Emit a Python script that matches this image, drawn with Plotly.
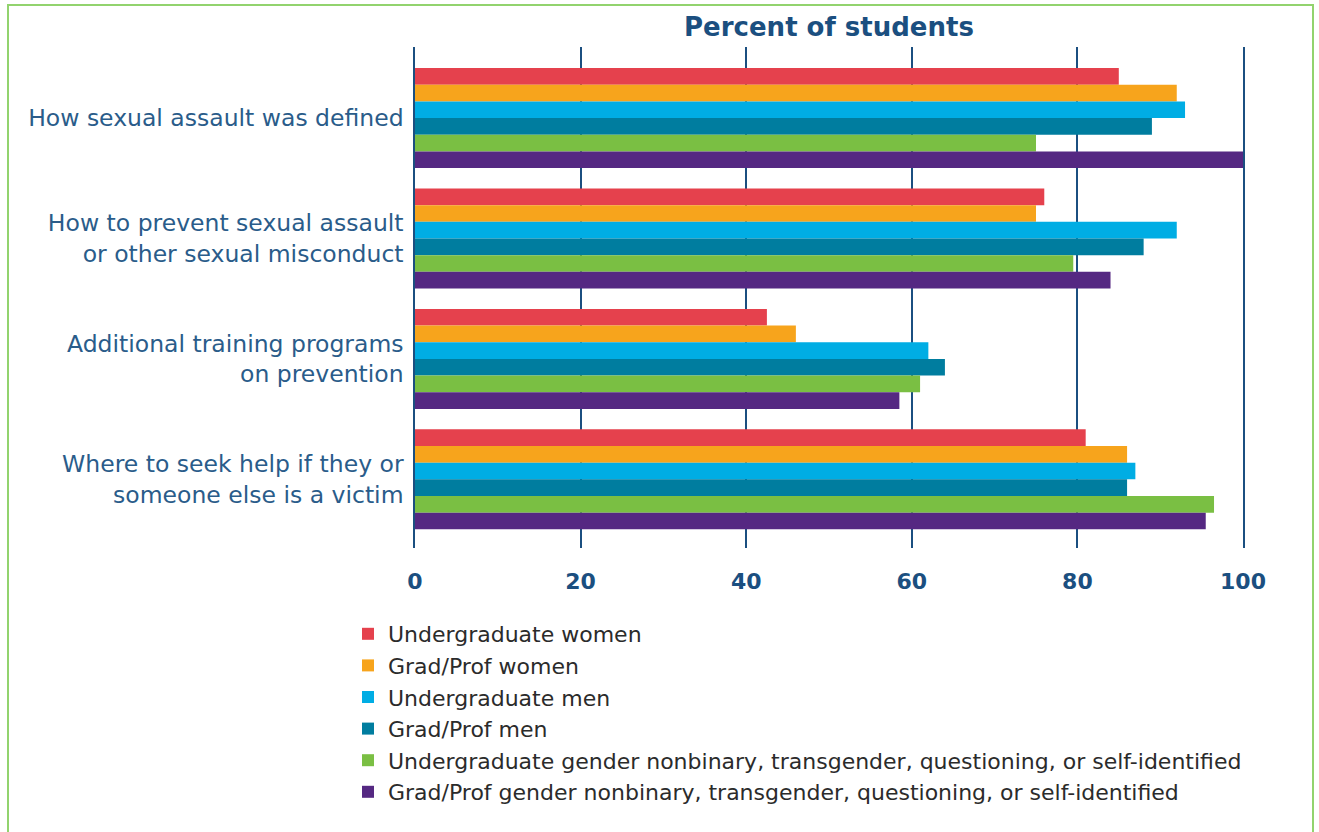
import plotly.graph_objects as go

categories = [
    "How sexual assault was defined",
    "How to prevent sexual assault<br>or other sexual misconduct",
    "Additional training programs<br>on prevention",
    "Where to seek help if they or<br>someone else is a victim",
]
series_names = [
    "Undergraduate women",
    "Grad/Prof women",
    "Undergraduate men",
    "Grad/Prof men",
    "Undergraduate gender nonbinary, transgender, questioning, or self-identified",
    "Grad/Prof gender nonbinary, transgender, questioning, or self-identified",
]
ug_women = [85, 76, 42.5, 81]
gp_women = [92, 75, 46, 86]
ug_men = [93, 92, 62, 87]
gp_men = [89, 88, 64, 86]
ug_nb = [75, 79.5, 61, 96.5]
gp_nb = [100, 84, 58.5, 95.5]
series_values = [ug_women, gp_women, ug_men, gp_men, ug_nb, gp_nb]
colors = ["#E5414D", "#F7A41C", "#00ADE4", "#007D9F", "#7ABF43", "#552882"]
x_ticks = [0, 20, 40, 60, 80, 100]

W, H = 1319, 832
L, R, T, B = 415, 1243, 47, 548

fig = go.Figure()
for name, vals, col in zip(series_names, series_values, colors):
    fig.add_trace(go.Bar(
        y=categories, x=vals, name=name, orientation="h",
        marker=dict(color=col, line=dict(width=0)),
    ))

fig.update_layout(
    width=W, height=H,
    margin=dict(l=L, r=W - R, t=T, b=H - B, autoexpand=False),
    paper_bgcolor="white", plot_bgcolor="white",
    barmode="group", bargap=0.17, bargroupgap=0,
    font=dict(family="DejaVu Sans", color="#2A5C8A"),
    title=dict(text="<b>Percent of students</b>", x=(L + R) / 2 / W, xref="container",
               xanchor="center", y=1 - 27 / H, yanchor="middle",
               font=dict(family="DejaVu Sans", size=26, color="#1B4F80")),
    legend=dict(
        x=(348 - L) / (R - L), xanchor="left",
        y=(B - 613) / (B - T), yanchor="top",
        font=dict(family="DejaVu Sans", size=22, color="#2B2B2B"),
        tracegroupgap=0, traceorder="normal",
        itemclick=False, itemdoubleclick=False,
        bgcolor="rgba(0,0,0,0)",
    ),
    showlegend=True,
)

fig.update_xaxes(
    range=[0, 100], tickvals=x_ticks, showgrid=True, gridcolor="#1B4F80", gridwidth=1.5,
    zeroline=False, showline=False, ticks="",
    tickfont=dict(family="DejaVu Sans", size=22, color="#1B4F80", weight="bold"),
    ticklabelstandoff=18,
)
fig.update_yaxes(
    type="category", range=[3.57, -0.59], showgrid=False, zeroline=False,
    showline=True, mirror=True, linecolor="#1B4F80", linewidth=1.5,
    ticks="", tickfont=dict(family="DejaVu Sans", size=23.5, color="#2A5C8A"),
    ticklabelstandoff=5,
)

fig.add_shape(type="rect", xref="paper", yref="paper",
              x0=(8 - L) / (R - L), x1=(1313 - L) / (R - L),
              y0=(B - 900) / (B - T), y1=(B - 5) / (B - T),
              line=dict(color="#92D36E", width=2), fillcolor="rgba(0,0,0,0)", layer="below")

fig.write_html("out.html", config={"displayModeBar": False},
               post_script="document.body.style.margin='0';document.body.style.overflow='hidden';")
